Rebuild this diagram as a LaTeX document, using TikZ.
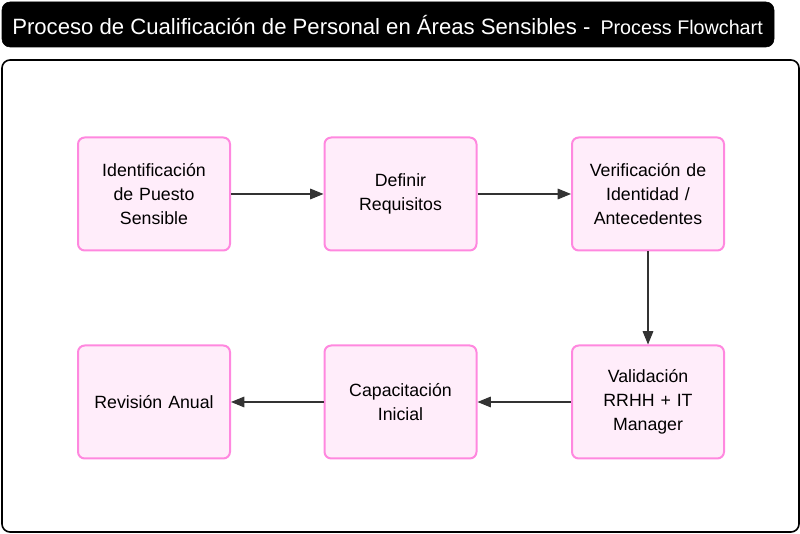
\documentclass[tikz,border=0pt]{standalone}
\usepackage{fontspec}
\setmainfont{Liberation Sans}
\usetikzlibrary{arrows.meta}
\definecolor{stepfill}{HTML}{FFEDFA}
\definecolor{stepline}{HTML}{FF88DF}
\definecolor{flowline}{HTML}{333333}
\tikzset{
  stepbox/.style={draw=stepline,fill=stepfill,line width=1.5pt,rounded corners=5pt,
    minimum width=152*0.75pt,minimum height=113*0.75pt,text width=140*0.75pt,
    align=center,font=\fontsize{13.3}{18}\selectfont,inner sep=0pt},
  flow/.style={draw=flowline,line width=0.8pt,-{Triangle[length=10pt,width=8pt]}}
}
\begin{document}
\begin{tikzpicture}[x=0.75pt,y=-0.75pt]
  \useasboundingbox (0,0) rectangle (800,534);

  % title bar
  \draw[fill=black,rounded corners=6pt] (2,2) rectangle (774,47);
  \node[anchor=west,text=white,inner sep=0pt] (title) at (12,25)
    {\fontsize{16.6}{18}\selectfont Proceso de Cualificación de Personal en Áreas Sensibles -\hspace{7.5pt}{\fontsize{14.8}{18}\selectfont Process Flowchart}};

  % frame
  \draw[black,line width=1.2pt,rounded corners=6pt] (2,60) rectangle (799,532);

  % first row
  \node[stepbox] (ident) at (154,194) {Identificación\\de Puesto\\Sensible};
  \node[stepbox] (requis) at (400.5,194) {Definir\\Requisitos};
  \node[stepbox] (verif) at (648,194) {Verificación de\\Identidad /\\Antecedentes};

  % second row
  \node[stepbox] (valid) at (648,402) {Validación\\RRHH + IT\\Manager};
  \node[stepbox] (capac) at (400.5,402) {Capacitación\\Inicial};
  \node[stepbox] (revis) at (154,402) {Revisión Anual};

  \draw[flow] (ident) -- (requis);
  \draw[flow] (requis) -- (verif);
  \draw[flow] (verif) -- (valid);
  \draw[flow] (valid) -- (capac);
  \draw[flow] (capac) -- (revis);

\end{tikzpicture}
\end{document}
